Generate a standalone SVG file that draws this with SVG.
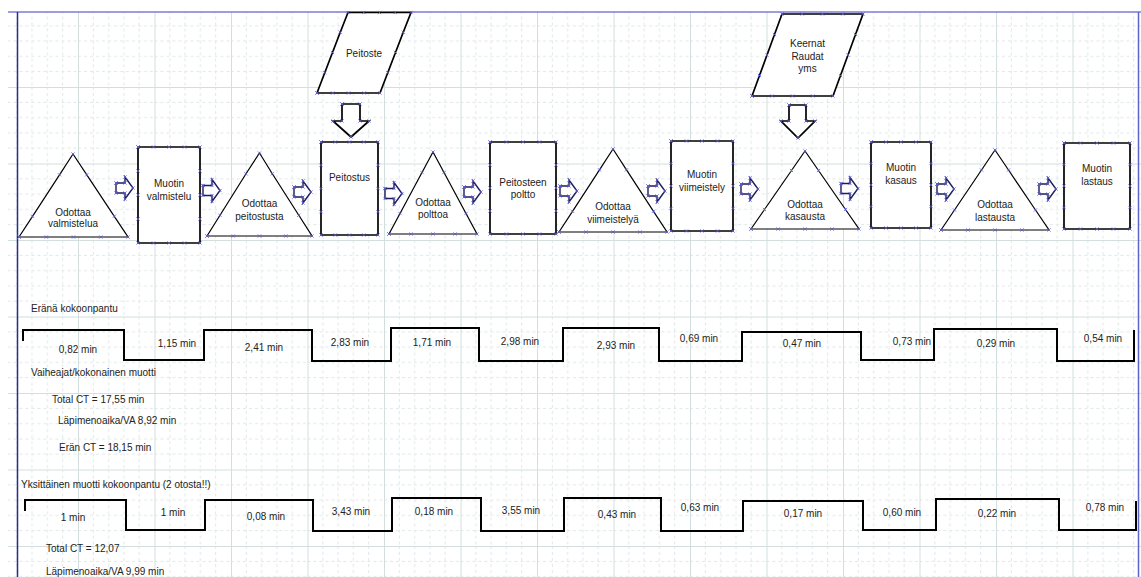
<svg xmlns="http://www.w3.org/2000/svg" xmlns:xlink="http://www.w3.org/1999/xlink" width="1141" height="577" viewBox="0 0 1141 577">
<style>
text{font-family:"Liberation Sans",Arial,sans-serif;font-size:10px;fill:#222}
.c{text-anchor:middle}
.s{fill:#fff;stroke:#000;stroke-width:1.7;stroke-linejoin:miter;marker-start:url(#cp);marker-mid:url(#cp);marker-end:url(#cp)}
.t{fill:#fff;stroke:#000;stroke-width:1.2;marker-start:url(#cp);marker-mid:url(#cp);marker-end:url(#cp)}
.ar{fill:#fff;stroke:#1c1c5c;stroke-width:1.4;marker-start:url(#cp);marker-mid:url(#cp);marker-end:url(#cp)}
.step{fill:none;stroke:#000;stroke-width:2}
</style>
<defs>
<marker id="cp" markerWidth="6" markerHeight="6" refX="3" refY="3" markerUnits="userSpaceOnUse" overflow="visible"><path d="M1.4,1.4 L4.6,4.6 M4.6,1.4 L1.4,4.6" stroke="#5a5ad8" stroke-width="0.8" fill="none"/></marker>
<pattern id="grid" x="1.5" y="10.5" width="76.5" height="76.5" patternUnits="userSpaceOnUse">
<g stroke="#dfe7e7" stroke-width="1" stroke-dasharray="3,3" fill="none">
<path d="M15.3,0V76.5M30.6,0V76.5M45.9,0V76.5M61.2,0V76.5M0,15.3H76.5M0,30.6H76.5M0,45.9H76.5M0,61.2H76.5"/>
</g>
<path d="M0.5,0V76.5M0,0.5H76.5" stroke="#d3dfdf" stroke-width="1" fill="none"/>
</pattern>
<path id="ra" d="M0,-5 L9,-5 L9,-11 L17,0 L9,11 L9,5 L0,5 Z"/>
</defs>
<rect width="1141" height="577" fill="#fff"/>
<rect x="8" y="12" width="1133" height="565" fill="url(#grid)"/>
<g id="page-border" fill="none">
<path d="M8,12H1141" stroke="#7b7bd6" stroke-width="1.5"/>
<path d="M17.5,12V577" stroke="#2b2b8c" stroke-width="1.5"/>
<path d="M1138.5,12V577" stroke="#6262cc" stroke-width="1.5"/>
</g>

<g id="connectors">
<use xlink:href="#ra" class="ar" x="116" y="188"/>
<use xlink:href="#ra" class="ar" x="203" y="190.5"/>
<use xlink:href="#ra" class="ar" x="294" y="192"/>
<use xlink:href="#ra" class="ar" x="385" y="193.5"/>
<use xlink:href="#ra" class="ar" x="464" y="192"/>
<use xlink:href="#ra" class="ar" x="560" y="191"/>
<use xlink:href="#ra" class="ar" x="648" y="191"/>
<use xlink:href="#ra" class="ar" x="741" y="189"/>
<use xlink:href="#ra" class="ar" x="841" y="188.5"/>
<use xlink:href="#ra" class="ar" x="937" y="189"/>
<use xlink:href="#ra" class="ar" x="1039" y="189"/>
<path class="s" d="M342,104 L360,104 L360,121 L369,121 L351,137 L333,121 L342,121 Z"/>
<path class="s" d="M789,105 L806,105 L806,121 L815,121 L798,138 L781,121 L789,121 Z"/>
</g>

<g id="input-peitoste">
<path class="s" d="M317,93 L324.75,72.75 L332.5,52.5 L340.25,32.25 L348,12.5 L363.75,12.5 L379.5,12.5 L395.25,12.5 L411,12.5 L403.25,32.25 L395.5,52.5 L387.75,72.75 L380,93 L364.25,93 L348.5,93 L332.75,93 Z"/>
<text class="c" x="364" y="56.5">Peitoste</text>
</g>
<g id="input-keernat">
<path class="s" d="M752,96 L759.5,75.5 L767,55 L774.5,34.5 L782,14 L802.25,14 L822.5,14 L842.75,14 L863,14 L855.5,34.5 L848,55 L840.5,75.5 L833,96 L812.75,96 L792.5,96 L772.25,96 Z"/>
<text class="c" x="807.5" y="46.5">Keernat</text>
<text class="c" x="807.5" y="59.5">Raudat</text>
<text class="c" x="807.5" y="71.5">yms</text>
</g>

<g id="wait-valmistelua">
<path class="t" d="M19,237 L32.5,216.3 L59.5,174.8 L73,154 L86.8,174.8 L114.3,216.3 L128,237 L100.8,237 L73.5,237 L46.3,237 Z"/>
<text class="c" x="73" y="215.5">Odottaa</text>
<text class="c" x="73" y="226.8">valmistelua</text>
</g>
<g id="muotin-valmistelu">
<path class="s" d="M138,147 L153.5,147 L169,147 L184.5,147 L200,147 L200,171 L200,195 L200,219 L200,243 L184.5,243 L169,243 L153.5,243 L138,243 L138,219 L138,195 L138,171 Z"/>
<text class="c" x="169" y="186.5">Muotin</text>
<text class="c" x="169" y="199.5">valmistelu</text>
</g>
<g id="wait-peitostusta">
<path class="t" d="M207,236 L220,215.3 L246,173.8 L259.5,153 L272.3,173.8 L298.8,215.3 L312,236 L285.8,236 L259.5,236 L233.3,236 Z"/>
<text class="c" x="259.5" y="206.5">Odottaa</text>
<text class="c" x="259.5" y="219.5">peitostusta</text>
</g>
<g id="peitostus">
<path class="s" d="M321,142 L335.25,142 L349.5,142 L363.75,142 L378,142 L378,165.25 L378,188.5 L378,211.75 L378,235 L363.75,235 L349.5,235 L335.25,235 L321,235 L321,211.75 L321,188.5 L321,165.25 Z"/>
<text class="c" x="349.5" y="180.5">Peitostus</text>
</g>
<g id="wait-polttoa">
<path class="t" d="M389,234 L400,213.5 L422,172.5 L433,152 L444,172.5 L466,213.5 L477,234 L455,234 L433,234 L411,234 Z"/>
<text class="c" x="433" y="205.5">Odottaa</text>
<text class="c" x="433" y="217.5">polttoa</text>
</g>
<g id="peitosteen-poltto">
<path class="s" d="M490,142 L506.5,142 L523,142 L539.5,142 L556,142 L556,165 L556,188 L556,211 L556,234 L539.5,234 L523,234 L506.5,234 L490,234 L490,211 L490,188 L490,165 Z"/>
<text class="c" x="523" y="185.5">Peitosteen</text>
<text class="c" x="523" y="197.5">poltto</text>
</g>
<g id="wait-viimeistelya">
<path class="t" d="M559,232 L572.5,211.3 L599.5,169.8 L613,149 L626.5,169.8 L653.5,211.3 L667,232 L640,232 L613,232 L586,232 Z"/>
<text class="c" x="613" y="209.5">Odottaa</text>
<text class="c" x="613" y="222.5">viimeistelyä</text>
</g>
<g id="muotin-viimeistely">
<path class="s" d="M671,141 L686.5,141 L702,141 L717.5,141 L733,141 L733,163.5 L733,186 L733,208.5 L733,231 L717.5,231 L702,231 L686.5,231 L671,231 L671,208.5 L671,186 L671,163.5 Z"/>
<text class="c" x="702" y="177.5">Muotin</text>
<text class="c" x="702" y="190.5">viimeistely</text>
</g>
<g id="wait-kasausta">
<path class="t" d="M751,229 L764.5,209.5 L791.5,170.5 L805,151 L818.5,170.5 L845.5,209.5 L859,229 L832,229 L805,229 L778,229 Z"/>
<text class="c" x="805" y="207.5">Odottaa</text>
<text class="c" x="805" y="219.5">kasausta</text>
</g>
<g id="muotin-kasaus">
<path class="s" d="M871,142 L886,142 L901,142 L916,142 L931,142 L931,163.5 L931,185 L931,206.5 L931,228 L916,228 L901,228 L886,228 L871,228 L871,206.5 L871,185 L871,163.5 Z"/>
<text class="c" x="901" y="170.5">Muotin</text>
<text class="c" x="901" y="183.5">kasaus</text>
</g>
<g id="wait-lastausta">
<path class="t" d="M941,230 L954.5,210 L981.5,170 L995,150 L1008.5,170 L1035.5,210 L1049,230 L1022,230 L995,230 L968,230 Z"/>
<text class="c" x="995" y="207.5">Odottaa</text>
<text class="c" x="995" y="220.5">lastausta</text>
</g>
<g id="muotin-lastaus">
<path class="s" d="M1064,143 L1080.5,143 L1097,143 L1113.5,143 L1130,143 L1130,164.5 L1130,186 L1130,207.5 L1130,229 L1113.5,229 L1097,229 L1080.5,229 L1064,229 L1064,207.5 L1064,186 L1064,164.5 Z"/>
<text class="c" x="1097" y="171.5">Muotin</text>
<text class="c" x="1097" y="184.5">lastaus</text>
</g>

<g id="timeline-batch">
<text x="31" y="311.5">Eränä kokoonpantu</text>
<path class="step" d="M23,341 L23,330 L124,330 L124,360 L204,360 L204,330 L312,330 L312,361 L391,361 L391,328 L479,328 L479,361 L563,361 L563,328 L659,328 L659,361 L742,361 L742,332 L861,332 L861,360 L934,360 L934,329 L1057,329 L1057,361 L1134,361 L1134,330"/>
<text class="c" x="78" y="352.5">0,82 min</text>
<text class="c" x="177" y="346.5">1,15 min</text>
<text class="c" x="264" y="350.5">2,41 min</text>
<text class="c" x="350" y="345.5">2,83 min</text>
<text class="c" x="432" y="345.5">1,71 min</text>
<text class="c" x="520" y="344.5">2,98 min</text>
<text class="c" x="616" y="348.5">2,93 min</text>
<text class="c" x="699" y="341.5">0,69 min</text>
<text class="c" x="802" y="346.5">0,47 min</text>
<text class="c" x="912" y="344.5">0,73 min</text>
<text class="c" x="996" y="346.5">0,29 min</text>
<text class="c" x="1103" y="341.5">0,54 min</text>
<text x="31" y="375.5">Vaiheajat/kokonainen muotti</text>
<text x="52" y="402.5">Total CT = 17,55 min</text>
<text x="58" y="423.5">Läpimenoaika/VA 8,92 min</text>
<text x="59" y="450.5">Erän CT = 18,15 min</text>
</g>

<g id="timeline-single">
<text x="21" y="487.5">Yksittäinen muotti kokoonpantu (2 otosta!!)</text>
<path class="step" d="M25,511 L25,500 L126,500 L126,530 L205,530 L205,500 L313,500 L313,531 L392,531 L392,498 L481,498 L481,531 L564,531 L564,498 L661,498 L661,531 L743,531 L743,501 L863,501 L863,530 L936,530 L936,499 L1059,499 L1059,530 L1136,530 L1136,501"/>
<text class="c" x="73" y="520.5">1 min</text>
<text class="c" x="173" y="515.5">1 min</text>
<text class="c" x="266" y="519.5">0,08 min</text>
<text class="c" x="351" y="514.5">3,43 min</text>
<text class="c" x="434" y="514.5">0,18 min</text>
<text class="c" x="521" y="513.5">3,55 min</text>
<text class="c" x="617" y="517.5">0,43 min</text>
<text class="c" x="700" y="510.5">0,63 min</text>
<text class="c" x="803" y="516.5">0,17 min</text>
<text class="c" x="902" y="515.5">0,60 min</text>
<text class="c" x="997" y="516.5">0,22 min</text>
<text class="c" x="1105" y="510.5">0,78 min</text>
<text x="46" y="551.5">Total CT = 12,07</text>
<text x="46" y="574.5">Läpimenoaika/VA 9,99 min</text>
</g>
</svg>
